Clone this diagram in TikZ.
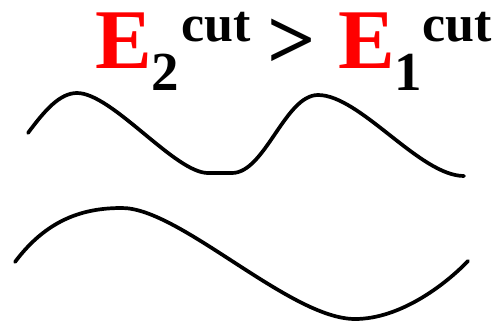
\documentclass[tikz,border=0pt]{standalone}
\usepackage{fontspec}
\setmainfont{Liberation Serif}
\begin{document}
\begin{tikzpicture}[x=1pt,y=-1pt,
  big/.style={inner sep=0pt,anchor=base west,font=\fontsize{85}{85}\selectfont\bfseries},
  sub/.style={inner sep=0pt,anchor=base west,font=\fontsize{55}{55}\selectfont\bfseries},
  sup/.style={inner sep=0pt,anchor=base west,font=\fontsize{52}{52}\selectfont\bfseries},
  wave/.style={line width=3.7pt,line cap=round,line join=round}]
\useasboundingbox (0,0) rectangle (499,322);
\node[big,text=red] (e2) at (95,68) {E};
\node[sub] (s2) at (151,90) {2};
\node[sup] (c2) at (181,41) {cut};
\node[big] (gt) at (267,68) {>};
\node[big,text=red] (e1) at (338,68) {E};
\node[sub] (s1) at (394,90) {1};
\node[sup] (c1) at (422,41) {cut};
\draw[wave] (28,133) .. controls (45,110) and (60,93) .. (77,93)
  .. controls (112,93) and (175,173) .. (208,173)
  -- (232,173)
  .. controls (265,173) and (285,95) .. (318,95)
  .. controls (360,95) and (420,176) .. (464,176);
\draw[wave] (15,262) .. controls (50,215) and (90,208) .. (122,208)
  .. controls (180,208) and (290,319) .. (355,319)
  .. controls (400,319) and (445,285) .. (468,261);
\end{tikzpicture}
\end{document}
